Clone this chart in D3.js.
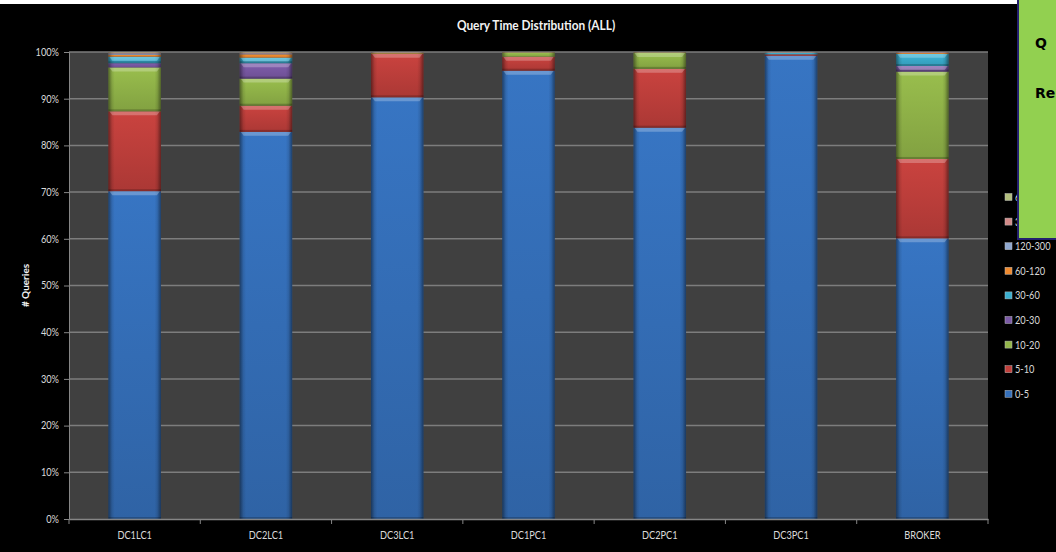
<!DOCTYPE html>
<html>
<head>
<meta charset="utf-8">
<script src="https://cdn.jsdelivr.net/npm/d3@7"></script>
<style>
  html, body { margin: 0; padding: 0; background: #000; overflow: hidden; }
  svg { display: block; }
  /* narrow the humanist face a little so labels read like a condensed UI font */
  .narrow { transform: scaleX(0.88); transform-box: fill-box; transform-origin: center; }
  .narrow-r { transform: scaleX(0.88); transform-box: fill-box; transform-origin: right center; }
  .narrow-l { transform: scaleX(0.88); transform-box: fill-box; transform-origin: left center; }
</style>
</head>
<body>
<svg id="chart" width="1056" height="552"></svg>
<script>
// Query time buckets (seconds) per server, as percent of all queries
const categories = ["DC1LC1", "DC2LC1", "DC3LC1", "DC1PC1", "DC2PC1", "DC3PC1", "BROKER"];
const seriesNames = ["0-5", "5-10", "10-20", "20-30", "30-60", "60-120", "120-300", "300-600", "600+"];

const q0_5     = [70.2, 82.9, 90.3, 96.0, 83.8, 99.2, 60.1];
const q5_10    = [17.1,  5.6,  9.3,  3.0, 12.6,  0.3, 17.0];
const q10_20   = [ 9.4,  5.8,  0.1,  0.8,  3.4,  0.0, 18.7];
const q20_30   = [ 0.9,  3.3,  0.0,  0.0,  0.0,  0.0,  1.2];
const q30_60   = [ 1.4,  1.2,  0.0,  0.1,  0.1,  0.3,  2.6];
const q60_120  = [ 0.4,  0.7,  0.2,  0.1,  0.1,  0.1,  0.2];
const q120_300 = [ 0.3,  0.2,  0.1,  0.0,  0.0,  0.1,  0.1];
const q300_600 = [ 0.2,  0.2,  0.0,  0.0,  0.0,  0.0,  0.1];
const q600p    = [ 0.1,  0.1,  0.0,  0.0,  0.0,  0.0,  0.0];

const seriesValues = [q0_5, q5_10, q10_20, q20_30, q30_60, q60_120, q120_300, q300_600, q600p];
const seriesColors = ["#3570bb", "#c2403c", "#93b64a", "#7b5aa6", "#3aafd0", "#f08a2e", "#8fa8d0", "#d38a88", "#b3bf7e"];
const yTicks = [0, 10, 20, 30, 40, 50, 60, 70, 80, 90, 100];

const chartTitle = "Query Time Distribution (ALL)";
const yTitle = "# Queries";
const noteLines = ["Q", "Re"];

const W = 1056, H = 552;
const plot = { left: 69, right: 988, top: 52, bottom: 519 };
const labelFont = "Lato, 'Open Sans', 'Liberation Sans', sans-serif";

const svg = d3.select("#chart");
svg.append("rect").attr("width", W).attr("height", H).attr("fill", "#000");
// thin white strip along the top edge
svg.append("rect").attr("x", 0).attr("y", 0).attr("width", 1017).attr("height", 4).attr("fill", "#fff");

// table for the stack layout
const rows = categories.map((c, i) => {
  const r = { category: c };
  seriesNames.forEach((s, k) => { r[s] = seriesValues[k][i]; });
  return r;
});
const stacked = d3.stack().keys(seriesNames)(rows);

const x = d3.scaleBand().domain(categories).range([plot.left, plot.right])
  .paddingInner(0.6).paddingOuter(0.3);
const y = d3.scaleLinear().domain([0, 100]).range([plot.bottom, plot.top]);
const color = d3.scaleOrdinal().domain(seriesNames).range(seriesColors);

// gradients giving each segment its bevelled look
const defs = svg.append("defs");
seriesNames.forEach((s, k) => {
  const c = d3.color(seriesColors[k]);
  const g = defs.append("linearGradient").attr("id", "vg" + k)
    .attr("x1", 0).attr("y1", 0).attr("x2", 0).attr("y2", 1);
  g.append("stop").attr("offset", "0%").attr("stop-color", c.brighter(0.12));
  g.append("stop").attr("offset", "100%").attr("stop-color", c.darker(0.35));
});
const side = defs.append("linearGradient").attr("id", "sideShade")
  .attr("x1", 0).attr("y1", 0).attr("x2", 1).attr("y2", 0);
[[0, 0.45], [0.07, 0.1], [0.12, 0], [0.88, 0], [0.93, 0.1], [1, 0.45]].forEach(([o, a]) =>
  side.append("stop").attr("offset", o).attr("stop-color", "#000").attr("stop-opacity", a));

// plot area
svg.append("rect")
  .attr("x", plot.left).attr("y", plot.top)
  .attr("width", plot.right - plot.left).attr("height", plot.bottom - plot.top)
  .attr("fill", "#404040");

// horizontal gridlines
svg.append("g").selectAll("line").data(yTicks.filter(d => d > 0)).join("line")
  .attr("x1", plot.left).attr("x2", plot.right)
  .attr("y1", d => y(d)).attr("y2", d => y(d))
  .attr("stroke", "#7d7d7d").attr("stroke-width", 1.5);

// stacked bars
const layers = svg.append("g").selectAll("g").data(stacked).join("g");
layers.each(function (layer, k) {
  const g = d3.select(this);
  const segs = layer.filter(d => d[1] - d[0] > 0);
  const bw = x.bandwidth();
  const seg = g.selectAll("g").data(segs).join("g");
  seg.append("rect")
    .attr("x", d => x(d.data.category))
    .attr("y", d => y(d[1]))
    .attr("width", bw)
    .attr("height", d => y(d[0]) - y(d[1]))
    .attr("fill", `url(#vg${k})`);
  seg.append("rect")
    .attr("x", d => x(d.data.category))
    .attr("y", d => y(d[1]))
    .attr("width", bw)
    .attr("height", d => y(d[0]) - y(d[1]))
    .attr("fill", "url(#sideShade)");
  // top bevel highlight
  seg.filter(d => y(d[0]) - y(d[1]) > 5).append("path")
    .attr("d", d => {
      const x0 = x(d.data.category), y0 = y(d[1]);
      return `M${x0 + 1},${y0} L${x0 + bw - 1},${y0} L${x0 + bw - 4},${y0 + 4} L${x0 + 4},${y0 + 4} Z`;
    })
    .attr("fill", "#fff").attr("fill-opacity", 0.25);
  // darker lower edge
  seg.filter(d => y(d[0]) - y(d[1]) > 5).append("rect")
    .attr("x", d => x(d.data.category))
    .attr("y", d => y(d[0]) - 2)
    .attr("width", bw).attr("height", 2)
    .attr("fill", "#000").attr("fill-opacity", 0.2);
});

// y axis
const yAxis = svg.append("g").attr("transform", `translate(${plot.left},0)`)
  .call(d3.axisLeft(y).tickValues(yTicks).tickFormat(d => d + "%").tickSize(5).tickPadding(5));
yAxis.select(".domain").attr("stroke", "#868686");
yAxis.selectAll(".tick line").attr("stroke", "#868686");
yAxis.selectAll("text").attr("fill", "#d9d9d9").attr("font-family", labelFont)
  .attr("font-size", 10.5).attr("class", "narrow-r");

// x axis: labels centred under bars, tick marks on category boundaries
const xAxis = svg.append("g").attr("transform", `translate(0,${plot.bottom})`)
  .call(d3.axisBottom(x).tickSize(0).tickPadding(13));
xAxis.select(".domain").attr("stroke", "#868686").attr("stroke-width", 1.5);
xAxis.selectAll("text").attr("fill", "#d9d9d9").attr("font-family", labelFont)
  .attr("font-size", 10.5).attr("class", "narrow");
const step = x.step();
const bounds = d3.range(categories.length + 1).map(i => plot.left + i * step);
svg.append("g").selectAll("line").data(bounds).join("line")
  .attr("x1", d => d).attr("x2", d => d)
  .attr("y1", plot.bottom).attr("y2", plot.bottom + 5)
  .attr("stroke", "#868686");

// titles
svg.append("text").attr("x", 536).attr("y", 30).attr("text-anchor", "middle")
  .attr("fill", "#f2f2f2").attr("font-family", labelFont).attr("font-weight", "bold")
  .attr("font-size", 13.5).attr("class", "narrow").text(chartTitle);
svg.append("text").attr("transform", `translate(29,${(plot.top + plot.bottom) / 2}) rotate(-90)`)
  .attr("text-anchor", "middle").attr("fill", "#f2f2f2").attr("font-family", labelFont)
  .attr("font-weight", "bold").attr("font-size", 10).text(yTitle);

// legend (top entry = last series)
const legendItems = seriesNames.slice().reverse();
const legend = svg.append("g").selectAll("g").data(legendItems).join("g")
  .attr("transform", (d, i) => `translate(1005,${197 + i * 24.6})`);
legend.append("rect").attr("x", 0).attr("y", -3.5).attr("width", 7).attr("height", 7)
  .attr("fill", d => color(d)).attr("stroke", "#bbb").attr("stroke-width", 0.5);
legend.append("text").attr("x", 10).attr("y", 4).attr("fill", "#d9d9d9")
  .attr("font-family", labelFont).attr("font-size", 10.5).attr("class", "narrow-l").text(d => d);

// note box on the right
svg.append("rect").attr("x", 1018).attr("y", -2).attr("width", 60).attr("height", 241)
  .attr("fill", "#92d050").attr("stroke", "#23206e").attr("stroke-width", 2);
svg.append("g").selectAll("text").data(noteLines).join("text")
  .attr("x", 1035).attr("y", (d, i) => 48 + i * 50)
  .attr("fill", "#000").attr("font-family", "'DejaVu Sans', Verdana, sans-serif")
  .attr("font-weight", "bold").attr("font-size", 14).text(d => d);
</script>
</body>
</html>
